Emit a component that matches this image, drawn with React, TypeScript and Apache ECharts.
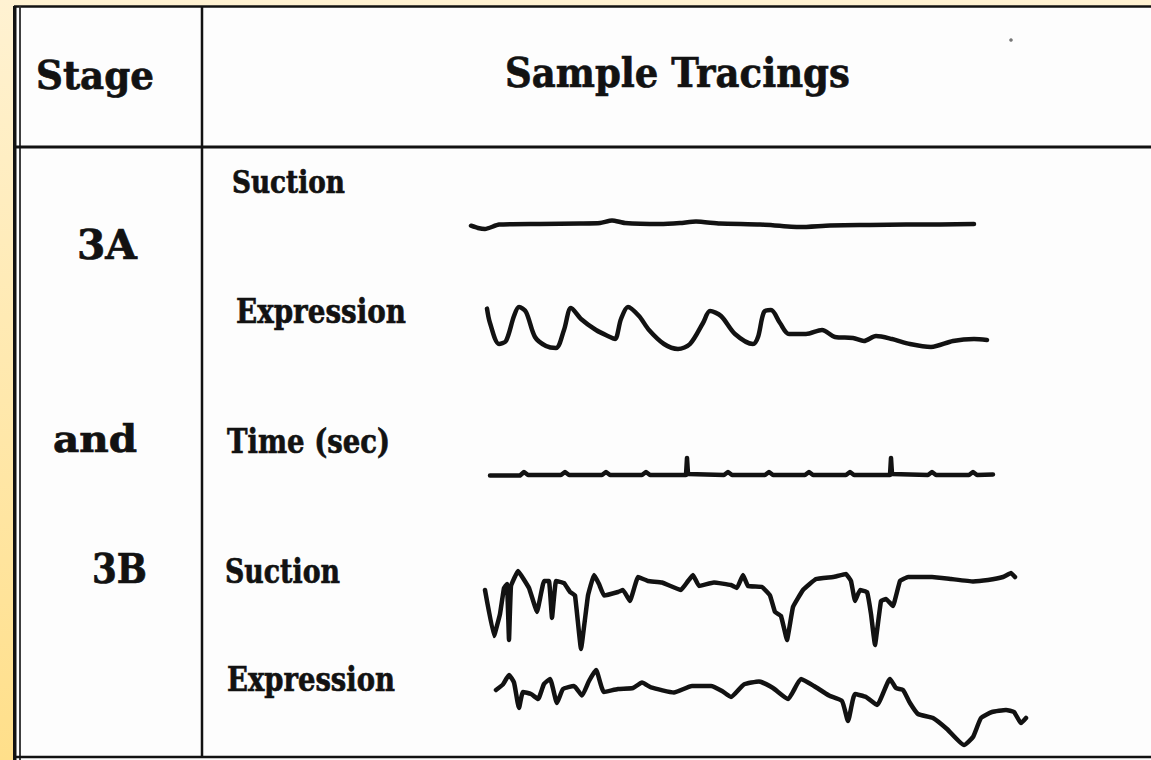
import React, { useEffect, useRef } from "react";
import * as echarts from "echarts";

// ---- Tracing data: t = sample position (same time base for every tracing), v = deflection (up positive)
const suction3A_t = [-12, -5, 2, 16, 57, 97, 117, 129, 142, 177, 197, 213, 237, 277, 317, 347, 387, 423, 457, 491];
const suction3A_v = [-1.7, -4, -5, -0.6, 0, 0.5, 1, 3.6, 1, 0, 1, 2.5, 0.5, -0.5, -3, -1.5, -1, -0.5, -0.5, 0];

const expression3A_t = [4, 7, 16, 23, 31, 36, 43, 52, 63, 73, 81, 88, 98, 113, 127, 132, 138, 145, 156, 166, 181, 195, 207, 220, 227, 238, 252, 270, 275, 281, 288, 297, 306, 323, 339, 352, 370, 381, 393, 409, 427, 448, 470, 491, 504];
const expression3A_v = [21.4, 7, -14, -11, 14, 23, 18, -7, -16, -18, 0, 22, 11, 0, -7, -9, 11, 23, 14, 0, -14, -19, -14, 7, 19, 14, -4, -14, -7, 18, 20, 7, -4, -4, 0, -7, -8, -11, -6, -9, -14, -17, -11, -9, -10];

const time_t = [7, 37, 41, 45, 78, 82, 86, 119, 123, 127, 159, 163, 167, 203, 204, 205, 241, 245, 249, 282, 286, 290, 322, 326, 330, 363, 367, 371, 407, 408, 409, 445, 449, 453, 486, 490, 494, 510];
const time_v = [-0.5, -0.5, 3, 0, 0, 3, 0, 0, 3, 0, 0, 3, 0, 0, 17, 1, 0, 3, 0, 0, 3, 0, 0, 3, 0, 0, 3, 0, 0, 17, 1, 0, 3, 0, 0, 3, 0, 0.5];

const suction3B_t = [2, 11, 17, 21, 24, 26, 28, 35, 46, 54, 61, 66, 69, 73, 81, 87, 92, 98, 105, 111, 116, 121, 135, 140, 147, 155, 165, 179, 198, 205, 210, 216, 231, 248, 254, 260, 265, 279, 287, 292, 298, 304, 310, 320, 333, 350, 363, 368, 372, 377, 384, 388, 392, 398, 403, 410, 417, 425, 449, 468, 490, 505, 520, 528, 532];
const suction3B_v = [0, -46, -24, 2, 6, -50, 4, 19, 2, -22, 9, 9, -28, 9, 7, -2, -5.5, -59, -5.5, 15, 6, -5.5, -2, 0, -11, 13, 9, 7.5, 0, 9, 15, 4, 7.5, 5, 2, 15, 4, 3, -5.5, -22, -26, -50, -17, 0, 11, 13, 16, 9, -11, 0, -2, -24, -55, -11, -9, -16, 9, 13, 13, 11, 8.6, 10, 13, 17, 13];

const expression3B_t = [13, 20, 26, 31, 36, 40, 48, 55, 61, 67, 74, 80, 91, 99, 106, 113, 121, 135, 150, 159, 168, 191, 209, 228, 239, 248, 261, 276, 290, 305, 318, 331, 346, 359, 365, 372, 383, 394, 407, 413, 420, 427, 435, 450, 464, 481, 490, 498, 509, 523, 531, 538, 543];
const expression3B_v = [0, 5.6, 15, 7.5, -18, -2, -4, -9, 6, 11, -13, 1, 4, -5.5, 9, 20, -2, 1, 2, 7.5, 2.6, -2.5, 4, 4, -1, -7, 5.6, 8.6, 2, -9, 11, 4, -5.5, -11, -31, -4, -7, -15, 11, 2, 0, -13, -24, -28, -39, -55, -47, -28, -22, -20, -22, -33, -28];

// ---- Table texts
const headerTexts = ["Stage", "Sample Tracings"];
const stageLabels = ["3A", "and", "3B"];
const traceLabels = ["Suction", "Expression", "Time (sec)", "Suction", "Expression"];

const FONT = '"DejaVu Serif", serif';
const INK = "#121212";

function measure(text: string, size: number) {
  const ctx = document.createElement("canvas").getContext("2d")!;
  ctx.font = `bold ${size}px "DejaVu Serif"`;
  return ctx.measureText(text).width || text.length * size * 0.6;
}

// text placed by left edge, baseline, cap height and target width
function label(text: string, left: number, baseline: number, cap: number, width: number) {
  const size = cap / 0.729;
  const w = measure(text, size);
  return {
    type: "text",
    x: left,
    y: baseline - 0.346 * size,
    scaleX: width / w,
    z: 20,
    style: {
      text,
      fill: INK,
      stroke: INK,
      lineWidth: 0.7,
      fontFamily: FONT,
      fontWeight: "bold",
      fontSize: size,
      align: "left",
      verticalAlign: "middle",
    },
  };
}

export default function App() {
  const ref = useRef<HTMLDivElement>(null);
  useEffect(() => {
    if (!ref.current) return;
    const chart = echarts.init(ref.current, null, { renderer: "svg" });

    const traces = [
      { t: suction3A_t, v: suction3A_v, base: 224, smooth: 0.2 },
      { t: expression3A_t, v: expression3A_v, base: 330, smooth: 0.3 },
      { t: time_t, v: time_v, base: 475, smooth: 0 },
      { t: suction3B_t, v: suction3B_v, base: 590, smooth: 0.08 },
      { t: expression3B_t, v: expression3B_v, base: 690, smooth: 0.15 },
    ];

    const grids = traces.map((tr) => ({ left: 463, width: 580, top: tr.base - 60, height: 120 }));
    const xAxes = traces.map((_, i) => ({ type: "value", gridIndex: i, min: -20, max: 560, show: false }));
    const yAxes = traces.map((_, i) => ({ type: "value", gridIndex: i, min: -60, max: 60, show: false }));
    const series = traces.map((tr, i) => ({
      type: "line",
      xAxisIndex: i,
      yAxisIndex: i,
      data: tr.t.map((x, k) => [x, tr.v[k]]),
      showSymbol: false,
      smooth: tr.smooth,
      lineStyle: { color: INK, width: 4.5, join: "round", cap: "round" },
      z: 10,
    }));

    const line = (x1: number, y1: number, x2: number, y2: number, w: number, c = INK) => ({
      type: "line",
      z: 5,
      shape: { x1, y1, x2, y2 },
      style: { stroke: c, lineWidth: w },
    });

    const graphic = [
      {
        type: "rect",
        z: 0,
        shape: { x: 0, y: 0, width: 1151, height: 760 },
        style: {
          fill: new echarts.graphic.LinearGradient(0, 0, 0, 1, [
            { offset: 0, color: "#FFF2D2" },
            { offset: 1, color: "#FFDF8A" },
          ]),
        },
      },
      { type: "rect", z: 1, shape: { x: 14, y: 6, width: 1137, height: 754 }, style: { fill: "#FDFDFD" } },
      line(14, 6.5, 1151, 6.5, 2.5),
      { type: "rect", z: 5, shape: { x: 13, y: 6, width: 3.5, height: 754 }, style: { fill: INK } },
      line(20, 6, 20, 760, 1.8, "#2a2a2a"),
      line(202, 6, 202, 758, 2.5),
      line(14, 147, 1151, 147, 3),
      line(14, 757, 1151, 757, 2.5),
      { type: "circle", z: 5, shape: { cx: 1011, cy: 40, r: 1.8 }, style: { fill: "#777" } },
      label(headerTexts[0], 36, 89, 28, 118),
      label(headerTexts[1], 505, 87, 30, 345),
      label(stageLabels[0], 77, 259, 30, 60),
      label(stageLabels[1], 53, 452, 27, 84),
      label(stageLabels[2], 92, 583, 30, 55),
      label(traceLabels[0], 232, 193, 23, 113),
      label(traceLabels[1], 236, 323, 25, 170),
      label(traceLabels[2], 227, 453, 25, 163),
      label(traceLabels[3], 225, 583, 24, 115),
      label(traceLabels[4], 227, 691, 24, 168),
    ];

    chart.setOption({
      animation: false,
      grid: grids,
      xAxis: xAxes,
      yAxis: yAxes,
      series,
      graphic,
    });
    return () => chart.dispose();
  }, []);

  return (
    <div
      ref={ref}
      style={{ position: "absolute", left: 0, top: 0, width: 1151, height: 760 }}
    />
  );
}
